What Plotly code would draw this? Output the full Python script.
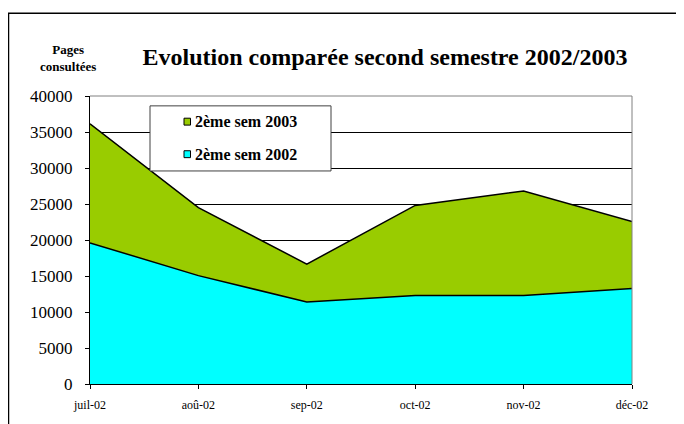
import plotly.graph_objects as go

months = ["juil-02", "aoû-02", "sep-02", "oct-02", "nov-02", "déc-02"]
sem2002 = [19600, 15050, 11400, 12300, 12300, 13250]
sem2003 = [36150, 24500, 16650, 24800, 26800, 22550]
y_ticks = [0, 5000, 10000, 15000, 20000, 25000, 30000, 35000, 40000]
y_tick_labels = [str(v) for v in y_ticks]
series_names = ["2ème sem 2003", "2ème sem 2002"]

GREEN = "#99CC00"
CYAN = "#00FFFF"
FONT = "Liberation Serif"

xs = list(range(len(months)))
fig = go.Figure()
fig.add_trace(go.Scatter(x=xs, y=sem2003, fill="tozeroy", mode="lines",
                         name=series_names[0],
                         line=dict(color="black", width=1.5), fillcolor=GREEN,
                         showlegend=False, hoverinfo="skip"))
fig.add_trace(go.Scatter(x=xs, y=sem2002, fill="tozeroy", mode="lines",
                         name=series_names[1],
                         line=dict(color="black", width=1.5), fillcolor=CYAN,
                         showlegend=False, hoverinfo="skip"))

OFF = 8  # page body margin
L, R, T, B = 90, 632, 96, 388   # plot area in page pixels
W, H = 684 - OFF, 424 - OFF

def px_x(p):
    return (p - L) / (R - L)

def px_y(p):
    return (B - p) / (B - T)

fig.update_layout(
    width=W, height=H,
    margin=dict(l=L - OFF, r=W - (R - OFF), t=T - OFF, b=H - (B - OFF)),
    paper_bgcolor="white", plot_bgcolor="white",
    font=dict(family=FONT, color="black"),
    title=dict(text="<b>Evolution comparée second semestre 2002/2003</b>",
               x=(385 - OFF) / W, xanchor="center", y=1 - (57 - OFF) / H, yanchor="middle",
               font=dict(family=FONT, size=24, color="black")),
    xaxis=dict(range=[0, 5], tickvals=xs, ticktext=months,
               showgrid=False, zeroline=False,
               showline=True, linecolor="black", linewidth=1,
               ticks="outside", ticklen=4, tickcolor="black",
               ticklabelstandoff=6,
               tickfont=dict(family=FONT, size=12, color="black")),
    yaxis=dict(range=[0, 40000], tickvals=y_ticks, ticktext=y_tick_labels,
               showgrid=True, gridcolor="black", gridwidth=1,
               zeroline=False,
               showline=True, linecolor="black", linewidth=1,
               ticks="outside", ticklen=4, tickcolor="black",
               ticklabelstandoff=9,
               tickfont=dict(family=FONT, size=17, color="black")),
    showlegend=False,
)

# plot area top/right border (gray)
fig.add_shape(type="line", xref="paper", yref="paper", x0=0, x1=1, y0=1, y1=1,
              line=dict(color="#808080", width=1))
fig.add_shape(type="line", xref="paper", yref="paper", x0=1, x1=1, y0=0, y1=1,
              line=dict(color="#808080", width=1))
# outer chart frame
fig.add_shape(type="rect", xref="paper", yref="paper",
              x0=px_x(8.5), x1=px_x(700), y0=px_y(440), y1=px_y(12),
              line=dict(color="black", width=1.5), layer="above")

# legend box
fig.add_shape(type="rect", xref="paper", yref="paper",
              x0=px_x(150), x1=px_x(331), y0=px_y(172), y1=px_y(106),
              line=dict(color="#404040", width=1), fillcolor="white", layer="above")
for name, col, yc in [(series_names[0], GREEN, 122), (series_names[1], CYAN, 155)]:
    fig.add_shape(type="rect", xref="paper", yref="paper",
                  x0=px_x(184), x1=px_x(190.5), y0=px_y(yc + 3.5), y1=px_y(yc - 3.5),
                  line=dict(color="black", width=1), fillcolor=col, layer="above")
    fig.add_annotation(text="<b>" + name + "</b>", xref="paper", yref="paper",
                       x=px_x(193), y=px_y(yc), xanchor="left", yanchor="middle",
                       showarrow=False,
                       font=dict(family=FONT, size=16, color="black"))

fig.add_annotation(text="<b>Pages<br>consultées</b>", xref="paper", yref="paper",
                   x=px_x(67.5), y=px_y(57), xanchor="center", yanchor="middle",
                   showarrow=False, align="center",
                   font=dict(family=FONT, size=13, color="black"))

fig.write_html("out.html")
